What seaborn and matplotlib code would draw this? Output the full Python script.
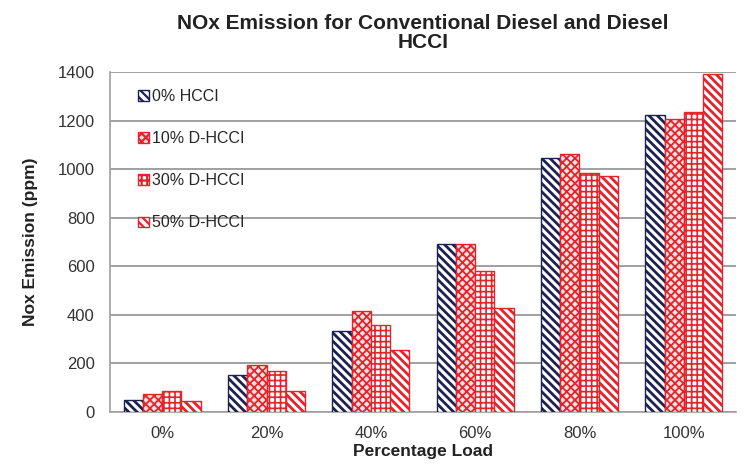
import numpy as np
import pandas as pd
import matplotlib
matplotlib.use('Agg')
import matplotlib.pyplot as plt
import seaborn as sns

# data
loads = ['0%', '20%', '40%', '60%', '80%', '100%']
series = ['0% HCCI', '10% D-HCCI', '30% D-HCCI', '50% D-HCCI']
hcci_0 = [48, 152, 332, 692, 1045, 1225]
dhcci_10 = [75, 192, 414, 690, 1063, 1205]
dhcci_30 = [86, 170, 360, 580, 985, 1237]
dhcci_50 = [45, 86, 256, 428, 970, 1390]
yticks = [0, 200, 400, 600, 800, 1000, 1200, 1400]

df = pd.DataFrame({
    'Load': loads * 4,
    'Series': np.repeat(series, len(loads)),
    'NOx': hcci_0 + dhcci_10 + dhcci_30 + dhcci_50,
})

sns.set_style('white')
plt.rcParams['font.family'] = ['Liberation Sans', 'DejaVu Sans']
plt.rcParams['hatch.linewidth'] = 1.6

fig = plt.figure(figsize=(7.53, 4.70), dpi=100)
ax = fig.add_axes([110 / 753, 1 - 412 / 470, 626 / 753, 340 / 470])

sns.barplot(data=df, x='Load', y='NOx', hue='Series', order=loads,
            hue_order=series, palette=['white'] * 4, width=0.74,
            legend=False, ax=ax, zorder=3)

navy = '#1c2150'
red = '#e5232b'
styles = [
    dict(edge=navy, hatch='\\' * 4, face='white', lw=2.0),
    dict(edge=red, hatch='xxxx', face='#fbe0e0', lw=1.3),
    dict(edge=red, hatch='+++', face='white', lw=1.2),
    dict(edge=red, hatch='\\' * 4, face='white', lw=2.0),
]
for cont, st in zip(ax.containers, styles):
    for bar in cont:
        bar.set_facecolor(st['face'])
        bar.set_edgecolor(st['edge'])
        bar.set_hatch(st['hatch'])
        bar.set_linewidth(1.0)
        if hasattr(bar, 'set_hatch_linewidth'):
            bar.set_hatch_linewidth(st['lw'])

ax.set_ylim(0, 1400)
ax.set_xlim(-0.5, len(loads) - 0.5)
ax.set_yticks(yticks)
ax.yaxis.grid(True, color='#a0a0a0', linewidth=1.4, zorder=0)
ax.set_axisbelow(True)
ax.set_xticks(np.arange(len(loads) + 1) - 0.5, minor=True)
ax.tick_params(axis='x', which='major', length=0, labelsize=12, colors='#333333', pad=10)
ax.tick_params(axis='x', which='minor', length=4, color='#a0a0a0', direction='out')
ax.tick_params(axis='y', length=5, direction='out', labelsize=12, pad=6,
               colors='#a0a0a0', labelcolor='#333333')

for s in ['top', 'right']:
    ax.spines[s].set_visible(False)
for s in ['left', 'bottom']:
    ax.spines[s].set_color('#a0a0a0')
    ax.spines[s].set_linewidth(1.2)

ax.set_xlabel('Percentage Load', fontsize=12.5, fontweight='bold', color='#222222', labelpad=2)
ax.set_ylabel('Nox Emission (ppm)', fontsize=12.5, fontweight='bold', color='#222222', labelpad=14)
fig.text(423 / 753, 1 - 33 / 470, 'NOx Emission for Conventional Diesel and Diesel\nHCCI',
         ha='center', va='center', fontsize=15, fontweight='bold', color='#222222',
         linespacing=0.95)

ax.legend(ax.containers, series, loc='upper left', bbox_to_anchor=(0.045, 0.95),
          frameon=False, fontsize=11.5, labelspacing=1.7, handlelength=0.65,
          handleheight=0.65, handletextpad=0.2, borderpad=0, borderaxespad=0)

fig.savefig('out.png', dpi=100)
